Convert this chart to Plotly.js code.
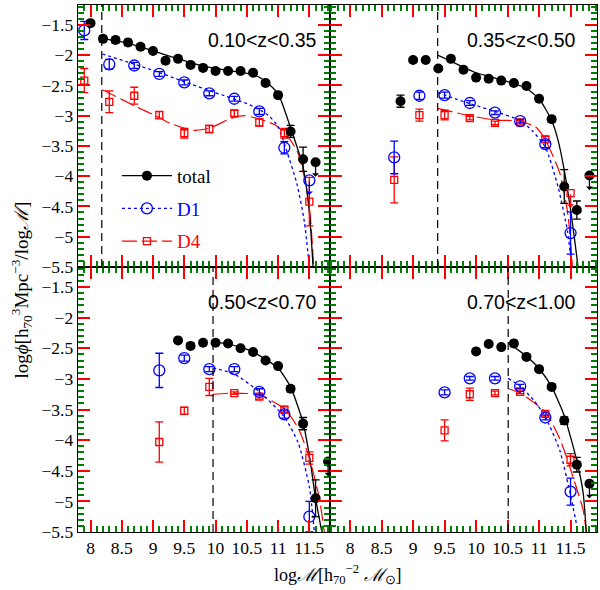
<!DOCTYPE html>
<html>
<head>
<meta charset="utf-8">
<script src="https://cdn.plot.ly/plotly-3.0.1.min.js"></script>
<style>body{margin:0;background:#fff}</style>
</head>
<body>
<div id="myDiv" style="width:600px;height:590px"></div>
<script>
// mass completeness limits, one per redshift bin
var zLabels = ['0.10<z<0.35', '0.35<z<0.50', '0.50<z<0.70', '0.70<z<1.00'];
var massLim = [8.18, 9.39, 9.96, 10.51];

// ---- total (black dots)
var xTot1 = [8.0,8.2,8.4,8.6,8.8,9.0,9.2,9.4,9.6,9.8,10.0,10.2,10.4,10.6,10.8,11.0,11.2,11.4];
var yTot1 = [-1.47,-1.73,-1.75,-1.79,-1.86,-1.93,-2.09,-2.06,-2.16,-2.21,-2.26,-2.26,-2.26,-2.29,-2.46,-2.66,-3.26,-3.72];
var eTot1 = [0.04,0.05,0.05,0.05,0.04,0.04,0.04,0.04,0.03,0.03,0.03,0.03,0.03,0.03,0.04,0.05,0.1,0.2];
var xTot2 = [8.8,9.0,9.2,9.4,9.6,9.8,10.0,10.2,10.4,10.6,10.8,11.0,11.2,11.4,11.6];
var yTot2 = [-2.76,-2.08,-2.08,-2.22,-2.06,-2.24,-2.37,-2.39,-2.42,-2.46,-2.51,-2.72,-3.06,-4.17,-4.56];
var eTot2 = [0.1,0.04,0.03,0.03,0.04,0.03,0.03,0.03,0.03,0.03,0.03,0.04,0.05,0.28,0.15];
var xTot3 = [9.4,9.6,9.8,10.0,10.2,10.4,10.6,10.8,11.0,11.2,11.4,11.6];
var yTot3 = [-2.37,-2.46,-2.41,-2.41,-2.42,-2.50,-2.56,-2.70,-2.79,-3.16,-3.73,-4.95];
var eTot3 = [0.04,0.04,0.03,0.03,0.03,0.03,0.03,0.03,0.04,0.05,0.1,0.3];
var xTot4 = [10.0,10.2,10.4,10.6,10.8,11.0,11.2,11.4,11.6];
var yTot4 = [-2.55,-2.43,-2.48,-2.42,-2.64,-2.84,-3.13,-3.68,-4.40];
var eTot4 = [0.03,0.03,0.03,0.05,0.03,0.03,0.04,0.06,0.12];
// upper limits
var xTotUL = [[11.6],[11.8],[11.8],[11.8]];
var yTotUL = [[-3.77],[-3.99],[-4.35],[-4.71]];

// ---- D1 (blue circles)
var xD1_1 = [7.9,8.3,8.7,9.1,9.5,9.9,10.3,10.7,11.1];
var yD1_1 = [-1.59,-2.15,-2.17,-2.31,-2.45,-2.63,-2.72,-2.93,-3.53];
var eD1_1 = [0.15,0.08,0.05,0.04,0.04,0.04,0.04,0.05,0.1];
var xD1_2 = [8.7,9.1,9.5,9.9,10.3,10.7,11.1,11.5];
var yD1_2 = [-3.69,-2.67,-2.66,-2.79,-2.95,-3.09,-3.47,-4.94];
var eD1_2 = [0.27,0.06,0.05,0.04,0.03,0.03,0.06,0.35];
var xD1_3 = [9.1,9.5,9.9,10.3,10.7,11.1,11.5];
var yD1_3 = [-2.86,-2.66,-2.84,-2.84,-3.21,-3.58,-5.25];
var eD1_3 = [0.28,0.05,0.04,0.04,0.05,0.06,0.25];
var xD1_4 = [9.5,9.9,10.3,10.7,11.1,11.5];
var yD1_4 = [-3.22,-2.99,-2.99,-3.12,-3.63,-4.84];
var eD1_4 = [0.04,0.03,0.03,0.03,0.04,0.22];
var xD1UL = [[11.5],[],[],[]];
var yD1UL = [[-4.07],[],[],[]];

// ---- D4 (red squares)
var xD4_1 = [7.9,8.3,8.7,9.1,9.5,9.9,10.3,10.7,11.1,11.5];
var yD4_1 = [-2.42,-2.77,-2.67,-2.99,-3.29,-3.22,-2.96,-3.11,-3.29,-4.42];
var eD4_1 = [0.2,0.18,0.14,0.06,0.08,0.06,0.05,0.06,0.08,0.4];
var xD4_2 = [8.7,9.1,9.5,9.9,10.3,10.7,11.1];
var yD4_2 = [-4.06,-2.99,-2.99,-3.04,-3.12,-3.11,-3.39];
var eD4_2 = [0.38,0.1,0.08,0.03,0.03,0.03,0.05];
var xD4_3 = [9.1,9.5,9.9,10.3,10.7,11.1,11.5];
var yD4_3 = [-4.03,-3.52,-3.13,-3.23,-3.29,-3.5,-4.29];
var eD4_3 = [0.33,0.06,0.14,0.02,0.04,0.05,0.1];
var xD4_4 = [9.5,9.9,10.3,10.7,11.1,11.5];
var yD4_4 = [-3.84,-3.25,-3.23,-3.21,-3.57,-4.32];
var eD4_4 = [0.17,0.1,0.03,0.03,0.05,0.1];
var xD4UL = [[],[11.5],[],[]];
var yD4UL = [[],[-4.28],[],[]];

// ---- fitted curves
var fxTot1 = [8.18,8.6,9.0,9.4,9.8,10.2,10.6,10.8,11.0,11.2,11.4,11.5,11.56];
var fyTot1 = [-1.72,-1.80,-1.93,-2.06,-2.18,-2.25,-2.32,-2.43,-2.64,-3.2,-3.85,-4.6,-5.5];
var fxD1_1 = [8.19,9.0,9.5,10.0,10.5,10.7,10.85,11.0,11.15,11.3,11.42,11.5];
var fyD1_1 = [-1.98,-2.25,-2.44,-2.62,-2.80,-2.9,-3.0,-3.18,-3.62,-4.12,-4.75,-5.5];
var fxD4_1 = [8.19,8.73,9.1,9.26,9.63,9.89,10.26,10.47,10.68,10.95,11.16,11.32,11.45,11.51,11.57];
var fyD4_1 = [-2.57,-2.85,-3.03,-3.12,-3.24,-3.21,-3.04,-3.0,-3.05,-3.15,-3.35,-3.62,-4.17,-4.6,-5.5];

var fxTot2 = [9.39,9.6,9.8,10.0,10.2,10.4,10.6,10.8,11.0,11.2,11.3,11.4,11.5,11.62];
var fyTot2 = [-2.0,-2.1,-2.2,-2.29,-2.35,-2.41,-2.47,-2.55,-2.72,-3.08,-3.4,-3.9,-4.55,-5.5];
var fxD1_2 = [9.39,9.9,10.3,10.7,10.9,11.1,11.3,11.45,11.52];
var fyD1_2 = [-2.62,-2.8,-2.93,-3.08,-3.26,-3.52,-4.17,-4.9,-5.5];
var fxD4_2 = [9.39,9.9,10.3,10.7,10.96,11.1,11.33,11.46,11.53];
var fyD4_2 = [-2.88,-3.0,-3.07,-3.09,-3.2,-3.4,-3.95,-4.65,-5.5];

var fxTot3 = [9.96,10.2,10.4,10.6,10.8,11.0,11.2,11.4,11.5,11.6,11.7];
var fyTot3 = [-2.40,-2.43,-2.48,-2.56,-2.68,-2.82,-3.13,-3.72,-4.25,-4.95,-5.5];
var fxD1_3 = [9.96,10.3,10.7,11.1,11.32,11.5,11.58];
var fyD1_3 = [-2.82,-2.92,-3.21,-3.62,-4.04,-4.76,-5.5];
var fxD4_3 = [9.96,10.3,10.7,11.1,11.32,11.5,11.66,11.74];
var fyD4_3 = [-3.25,-3.23,-3.26,-3.49,-3.8,-4.29,-4.95,-5.5];

var fxTot4 = [10.51,10.8,11.0,11.2,11.4,11.6,11.7,11.75];
var fyTot4 = [-2.41,-2.63,-2.83,-3.13,-3.6,-4.34,-4.86,-5.5];
var fxD1_4 = [10.51,10.7,10.91,11.1,11.33,11.5,11.6,11.62];
var fyD1_4 = [-2.99,-3.12,-3.34,-3.62,-4.17,-4.9,-5.4,-5.5];
var fxD4_4 = [10.51,10.7,11.1,11.33,11.52,11.7,11.75];
var fyD4_4 = [-3.16,-3.23,-3.54,-3.98,-4.54,-5.14,-5.5];

var BLUE = '#0000ff', RED = '#ff0000';
var serif = 'Liberation Serif, Times New Roman, serif';

// axis pairs: panel order top-left, top-right, bottom-left, bottom-right
var axX = ['x3','x4','x','x2'];
var axY = ['y3','y4','y','y2'];

var pan = [
  {t:[xTot1,yTot1,eTot1], d1:[xD1_1,yD1_1,eD1_1], d4:[xD4_1,yD4_1,eD4_1],
   ft:[fxTot1,fyTot1], f1:[fxD1_1,fyD1_1], f4:[fxD4_1,fyD4_1]},
  {t:[xTot2,yTot2,eTot2], d1:[xD1_2,yD1_2,eD1_2], d4:[xD4_2,yD4_2,eD4_2],
   ft:[fxTot2,fyTot2], f1:[fxD1_2,fyD1_2], f4:[fxD4_2,fyD4_2]},
  {t:[xTot3,yTot3,eTot3], d1:[xD1_3,yD1_3,eD1_3], d4:[xD4_3,yD4_3,eD4_3],
   ft:[fxTot3,fyTot3], f1:[fxD1_3,fyD1_3], f4:[fxD4_3,fyD4_3]},
  {t:[xTot4,yTot4,eTot4], d1:[xD1_4,yD1_4,eD1_4], d4:[xD4_4,yD4_4,eD4_4],
   ft:[fxTot4,fyTot4], f1:[fxD1_4,fyD1_4], f4:[fxD4_4,fyD4_4]}
];

var styTot = {mk:{symbol:'circle', size:10, color:'black'}, col:'black'};
var styD1 = {mk:{symbol:'circle-open', size:11, color:BLUE, line:{width:1.3, color:BLUE}}, col:BLUE};
var styD4 = {mk:{symbol:'square-open', size:7, color:RED, line:{width:1.3, color:RED}}, col:RED};

function fitLine(f, xa, ya, line){
  return {x:f[0], y:f[1], xaxis:xa, yaxis:ya, mode:'lines', showlegend:false,
          line:Object.assign({shape:'spline', smoothing:0.6}, line), hoverinfo:'skip'};
}
function pts(d, xa, ya, s){
  return {x:d[0], y:d[1], xaxis:xa, yaxis:ya, mode:'markers', showlegend:false,
          marker:s.mk,
          error_y:{type:'data', array:d[2], color:s.col, thickness:1.3, width:4}};
}
function ulPts(xs, ys, xa, ya, s){
  return {x:xs, y:ys, xaxis:xa, yaxis:ya, mode:'markers', showlegend:false, marker:s.mk};
}

var data = [];
var annotations = [];
var shapes = [];

for (var i = 0; i < 4; i++) {
  var xa = axX[i], ya = axY[i], p = pan[i];
  data.push(fitLine(p.f4, xa, ya, {color:RED, width:1.2, dash:'15px,5px'}));
  data.push(fitLine(p.f1, xa, ya, {color:BLUE, width:1.3, dash:'dot'}));
  data.push(fitLine(p.ft, xa, ya, {color:'black', width:1.3}));
  data.push(pts(p.d4, xa, ya, styD4));
  data.push(pts(p.d1, xa, ya, styD1));
  data.push(pts(p.t, xa, ya, styTot));

  var ul = [[xD4UL[i], yD4UL[i], styD4], [xD1UL[i], yD1UL[i], styD1], [xTotUL[i], yTotUL[i], styTot]];
  ul.forEach(function(u){
    if (!u[0].length) return;
    data.push(ulPts(u[0], u[1], xa, ya, u[2]));
    for (var k = 0; k < u[0].length; k++) {
      annotations.push({x:u[0][k], y:u[1][k] - 0.24, xref:xa, yref:ya, ax:0, ay:-15,
        showarrow:true, arrowhead:1, arrowsize:0.9, arrowwidth:1.3, arrowcolor:u[2].col, text:''});
    }
  });

  shapes.push({type:'line', xref:xa, yref:ya + ' domain', x0:massLim[i], x1:massLim[i], y0:0, y1:1,
               line:{color:'black', width:1.2, dash:'8px,5px'}});

  annotations.push({text:zLabels[i], xref:xa + ' domain', yref:ya + ' domain',
    x:(i % 2 === 0) ? 0.955 : 0.93, y:0.866, xanchor:'right', yanchor:'middle', showarrow:false,
    font:{family:'Liberation Sans, Arial, sans-serif', size:19.5, color:'black'}});
}

// legend entries (panel 1)
data.push({x:[null], y:[null], xaxis:'x3', yaxis:'y3', mode:'lines+markers', name:'total',
  legendgroup:'a', marker:styTot.mk, line:{color:'black', width:1.3}});
data.push({x:[null], y:[null], xaxis:'x3', yaxis:'y3', mode:'lines+markers',
  name:'<span style="color:#0000ff">D1</span>', legendgroup:'b',
  marker:styD1.mk, line:{color:BLUE, width:1.3, dash:'dot'}});
data.push({x:[null], y:[null], xaxis:'x3', yaxis:'y3', mode:'lines+markers',
  name:'<span style="color:#ff0000">D4</span>', legendgroup:'c',
  marker:styD4.mk, line:{color:RED, width:1.2, dash:'15px,5px'}});

annotations.push({text:'log<i>ϕ</i>[h<sub>70</sub><sup>3</sup>Mpc<sup>−3</sup>/log<i>ℳ</i>]',
  xref:'paper', yref:'paper', x:-0.108, y:0.46, xanchor:'center', yanchor:'middle',
  textangle:-90, showarrow:false, font:{family:serif, size:19, color:'black'}});
annotations.push({text:'log<i>ℳ</i>[h<sub>70</sub><sup>−2</sup> <i>ℳ</i><sub>⊙</sub>]',
  xref:'paper', yref:'paper', x:0.501, y:-0.08, xanchor:'center', yanchor:'middle',
  showarrow:false, font:{family:serif, size:18, color:'black'}});

function xAxis(dom, rng, anchor, labels){
  return {domain:dom, range:rng, anchor:anchor, tickmode:'linear', tick0:8, dtick:0.5,
    ticks:'inside', ticklen:12, tickwidth:2, tickcolor:'red', showticklabels:labels,
    showline:true, mirror:'allticks', linecolor:'black', linewidth:1.3,
    showgrid:false, zeroline:false,
    minor:{dtick:0.1, ticks:'inside', ticklen:6, tickwidth:2, tickcolor:'green'},
    tickfont:{family:serif, size:17.5, color:'black'}};
}
function yAxis(dom, rng, anchor, labels){
  return {domain:dom, range:rng, anchor:anchor, tickmode:'linear', tick0:-1.5, dtick:0.5,
    ticks:'inside', ticklen:12, tickwidth:2, tickcolor:'red', showticklabels:labels,
    showline:true, mirror:'allticks', linecolor:'black', linewidth:1.3,
    showgrid:false, zeroline:false,
    minor:{dtick:0.1, ticks:'inside', ticklen:6, tickwidth:2, tickcolor:'green'},
    tickfont:{family:serif, size:17.5, color:'black'}, tickformat:'.1~f'};
}

var xL = [0, 0.4855], xR = [0.4855, 1];
var yB = [0, 0.503], yT = [0.503, 1];
var rL = [7.8, 11.83], rR = [7.68, 11.92], rY = [-5.5, -1.17];

var layout = {
  width:600, height:590,
  margin:{l:78, r:3, t:5, b:58},
  xaxis:xAxis(xL, rL, 'y', true),
  yaxis:yAxis(yB, rY, 'x', true),
  xaxis2:xAxis(xR, rR, 'y2', true),
  yaxis2:yAxis(yB, rY, 'x2', false),
  xaxis3:xAxis(xL, rL, 'y3', false),
  yaxis3:yAxis(yT, rY, 'x3', true),
  xaxis4:xAxis(xR, rR, 'y4', false),
  yaxis4:yAxis(yT, rY, 'x4', false),
  showlegend:true,
  legend:{x:0.075, y:0.712, xanchor:'left', yanchor:'top', bgcolor:'rgba(0,0,0,0)',
    font:{family:serif, size:19, color:'black'}, tracegroupgap:5, itemwidth:50},
  annotations:annotations,
  shapes:shapes
};

Plotly.newPlot('myDiv', data, layout, {staticPlot:true});
</script>
</body>
</html>
